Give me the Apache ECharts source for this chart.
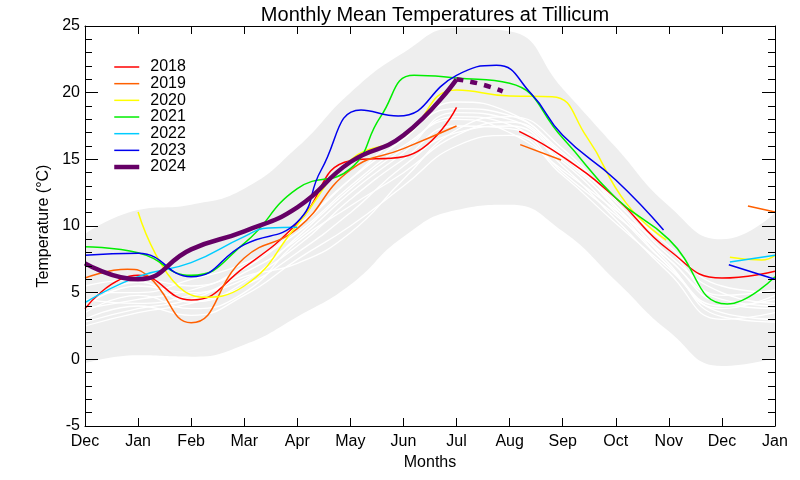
<!DOCTYPE html>
<html>
<head>
<meta charset="utf-8">
<script src="https://cdn.jsdelivr.net/npm/echarts@6/dist/echarts.min.js"></script>
<style>html,body{margin:0;padding:0;background:#fff}#c{width:800px;height:480px}</style>
</head>
<body>
<div id="c"></div>
<script>
// ---- data ----
const monthLabels = ['Dec','Jan','Feb','Mar','Apr','May','Jun','Jul','Aug','Sep','Oct','Nov','Dec','Jan'];
const yTicks = [-5, 0, 5, 10, 15, 20, 25];

// envelope of all years (min / max), one value per month position 0..13
const bandUpper = [9.4, 11.2, 11.6, 12.8, 15.9, 20.0, 23.0, 24.85, 24.6, 20.3, 15.9, 11.5, 9.0, 11.0];
const bandLower = [-0.3, 0.3, 0.2, 1.1, 3.2, 5.6, 9.2, 11.2, 11.6, 9.6, 5.9, 2.1, -0.5, 0.1];

// older years (white)
const hist1  = [4.0, 5.5, 5.0, 6.5, 9.0, 12.5, 15.5, 18.5, 18.0, 15.0, 11.5, 7.5, 4.5, 4.0];
const hist2  = [2.5, 3.5, 4.2, 5.5, 8.0, 11.0, 14.5, 17.0, 17.5, 14.5, 10.5, 6.5, 3.0, 3.5];
const hist3  = [5.5, 6.0, 5.5, 7.0, 10.0, 13.5, 16.5, 19.3, 18.5, 15.5, 12.0, 8.5, 5.5, 5.0];
const hist4  = [3.0, 4.0, 3.3, 4.8, 7.5, 10.0, 13.0, 16.0, 16.8, 13.8, 10.2, 6.8, 3.5, 3.0];
const hist5  = [4.5, 4.2, 4.8, 6.0, 8.5, 12.0, 15.0, 17.5, 17.3, 14.8, 11.0, 7.0, 4.0, 4.5];
const hist6  = [3.5, 4.8, 3.8, 5.0, 8.8, 11.5, 14.0, 16.8, 17.8, 15.2, 11.8, 7.8, 5.0, 4.2];
const hist7  = [5.0, 5.0, 6.0, 7.2, 9.5, 13.0, 16.0, 18.0, 17.0, 14.2, 11.2, 8.2, 4.8, 5.2];
const hist8  = [2.8, 3.8, 4.5, 6.2, 7.2, 9.5, 13.5, 17.2, 18.2, 15.8, 11.5, 7.2, 3.2, 2.8];
const hist9  = [4.2, 5.8, 4.3, 5.8, 9.2, 12.8, 15.8, 18.2, 17.6, 14.0, 10.8, 7.5, 4.2, 3.8];
const hist10 = [3.8, 4.5, 5.2, 6.8, 9.8, 13.5, 16.8, 18.8, 18.3, 15.3, 11.3, 7.0, 3.8, 4.8];

// highlighted years: [month position, temperature]; null = gap
const y2018 = [[0,3.8],[1,6.3],[2,4.45],[3,6.9],[4,10.2],[5,14.9],[6,15.2],[7,18.9], null,
               [8.18,17.1],[9,15.2],[10,12.1],[11,8.2],[12,6.1],[13,6.6]];
const y2019 = [[0,6.1],[0.8,6.75],[1.2,6.2],[2,2.75],[3,7.6],[4,9.8],[5,14.2],[6,15.8],[7,17.5], null,
               [8.2,16.1],[8.97,14.95], null, [12.49,11.5],[13,11.05]];
const y2020 = [[1,11.05],[2.2,4.65],[3,5.5],[4,10.1],[5,14.95],[6,16.7],[7,20.2],[8,19.75],[8.8,19.7],[9.45,16.7],[10.2,11.7],[10.95,8.95], null,
               [12.15,7.65],[12.75,7.45],[13,7.8]];
const y2021 = [[0,8.45],[1,8.0],[2,6.3],[3,8.7],[4,12.8],[5,14.3],[5.57,18.2],[6.2,21.3],[7,21.1],[8,20.7],[9,16.6],[10,12.1],[11,9.0],[12.1,4.15],[13,6.2]];
const y2022 = [[0,4.25],[1,6.2],[2,7.25],[3,9.2],[3.45,9.85],[4,9.9], null, [12.15,7.3],[13,7.8]];
const y2023 = [[0,7.8],[1,7.95],[2,6.2],[3,8.6],[4,10.3],[4.45,14.2],[5.2,18.7],[5.9,18.25],[7,21.3],[7.75,22.05],[8.4,19.95],[9,16.8],[10,13.45],[10.9,9.7], null,
               [12.13,7.1],[13,6.0]];
const y2024 = [[0,7.2],[1,6.0],[2,8.25],[3,9.6],[4,11.4],[5,14.8],[6,16.8],[7,21.0]];
const y2024Outlook = [[7,21.0],[7.45,20.65],[7.87,20.1]];

const yearNames  = ['2018','2019','2020','2021','2022','2023','2024'];
const yearColors = ['#ff0000','#ff6000','#ffff00','#00ee00','#00ccff','#0000ee','#660066'];
const yearData   = [y2018, y2019, y2020, y2021, y2022, y2023, y2024];
const histData   = [hist1, hist2, hist3, hist4, hist5, hist6, hist7, hist8, hist9, hist10];

// ---- chart ----
const FONT = "'Liberation Sans', Arial, Helvetica, sans-serif";
const chart = echarts.init(document.getElementById('c'), null, {renderer: 'canvas'});

const toPairs = arr => arr.map((v, i) => [i, v]);
const series = [];

// grey envelope: upper filled grey down to axis min, lower filled white down to axis min
series.push({
  type: 'line', name: 'bandHigh', smooth: 0.5, symbol: 'none', silent: true,
  data: toPairs(bandUpper), lineStyle: {width: 0, opacity: 0},
  areaStyle: {color: '#eeeeee', opacity: 1, origin: 'start'}, z: 1
});
series.push({
  type: 'line', name: 'bandLow', smooth: 0.5, symbol: 'none', silent: true,
  data: toPairs(bandLower), lineStyle: {width: 0, opacity: 0},
  areaStyle: {color: '#ffffff', opacity: 1, origin: 'start'}, z: 1.5
});
histData.forEach((h, k) => {
  series.push({
    type: 'line', name: 'hist' + k, smooth: 0.5, symbol: 'none', silent: true,
    data: toPairs(h), lineStyle: {color: '#ffffff', width: 1.3}, z: 2
  });
});
yearData.forEach((d, k) => {
  series.push({
    type: 'line', name: yearNames[k], smooth: 0.5, symbol: 'none', connectNulls: false,
    data: d.map(p => p === null ? [null, null] : p),
    lineStyle: {color: yearColors[k], width: k === 6 ? 4.5 : 1.5},
    itemStyle: {color: yearColors[k]}, z: 3 + (k === 6 ? 1 : 0)
  });
});
series.push({
  type: 'line', name: '2024 outlook', smooth: 0.5, symbol: 'none',
  data: y2024Outlook,
  lineStyle: {color: yearColors[6], width: 4.5, type: [7, 7], cap: 'butt'}, z: 4
});

const axisLine = {show: true, onZero: false, lineStyle: {color: '#000', width: 1}};
const option = {
  animation: false,
  backgroundColor: '#ffffff',
  textStyle: {fontFamily: FONT},
  title: {
    text: 'Monthly Mean Temperatures at Tillicum',
    left: 430, top: 0, textAlign: 'center',
    textStyle: {fontFamily: FONT, fontSize: 20, fontWeight: 'normal', color: '#000'}
  },
  legend: {
    data: yearNames, orient: 'vertical', left: 112, top: 59, padding: 0,
    itemWidth: 25, itemHeight: 14, itemGap: 0.67,
    itemStyle: {opacity: 0},
    lineStyle: {width: 'inherit'},
    textStyle: {fontFamily: FONT, fontSize: 16, color: '#000', padding: [0, 0, 0, 6]},
    selectedMode: false
  },
  grid: {left: 85, right: 25, top: 26, bottom: 54, containLabel: false},
  xAxis: [{
    type: 'value', min: 0, max: 13, interval: 1, position: 'bottom', z: 10,
    name: 'Months', nameLocation: 'middle', nameGap: 25,
    nameTextStyle: {fontFamily: FONT, fontSize: 16, color: '#000'},
    axisLine: axisLine,
    axisTick: {show: true, inside: true, length: 8, lineStyle: {color: '#000'}},
    axisLabel: {fontFamily: FONT, fontSize: 16, color: '#000', margin: 8,
      formatter: v => monthLabels[Math.round(v)] || ''},
    splitLine: {show: false}
  }, {
    type: 'value', min: 0, max: 13, interval: 1, position: 'top', z: 10,
    axisLine: axisLine,
    axisTick: {show: true, inside: true, length: 8, lineStyle: {color: '#000'}},
    axisLabel: {show: false}, splitLine: {show: false}
  }],
  yAxis: [{
    type: 'value', min: yTicks[0], max: yTicks[yTicks.length - 1], interval: 5, position: 'left', z: 10,
    name: 'Temperature (\u00B0C)', nameLocation: 'middle', nameGap: 31,
    nameTextStyle: {fontFamily: FONT, fontSize: 16, color: '#000'},
    axisLine: axisLine,
    axisTick: {show: true, inside: true, length: 13, lineStyle: {color: '#000'}},
    minorTick: {show: true, splitNumber: 5, length: 7, lineStyle: {color: '#000'}},
    axisLabel: {fontFamily: FONT, fontSize: 16, color: '#000', margin: 5},
    splitLine: {show: false}, minorSplitLine: {show: false}
  }, {
    type: 'value', min: yTicks[0], max: yTicks[yTicks.length - 1], interval: 5, position: 'right', z: 10,
    axisLine: axisLine,
    axisTick: {show: true, inside: true, length: 13, lineStyle: {color: '#000'}},
    minorTick: {show: true, splitNumber: 5, length: 7, lineStyle: {color: '#000'}},
    axisLabel: {show: false}, splitLine: {show: false}, minorSplitLine: {show: false}
  }],
  series: series
};
chart.setOption(option);
</script>
</body>
</html>
